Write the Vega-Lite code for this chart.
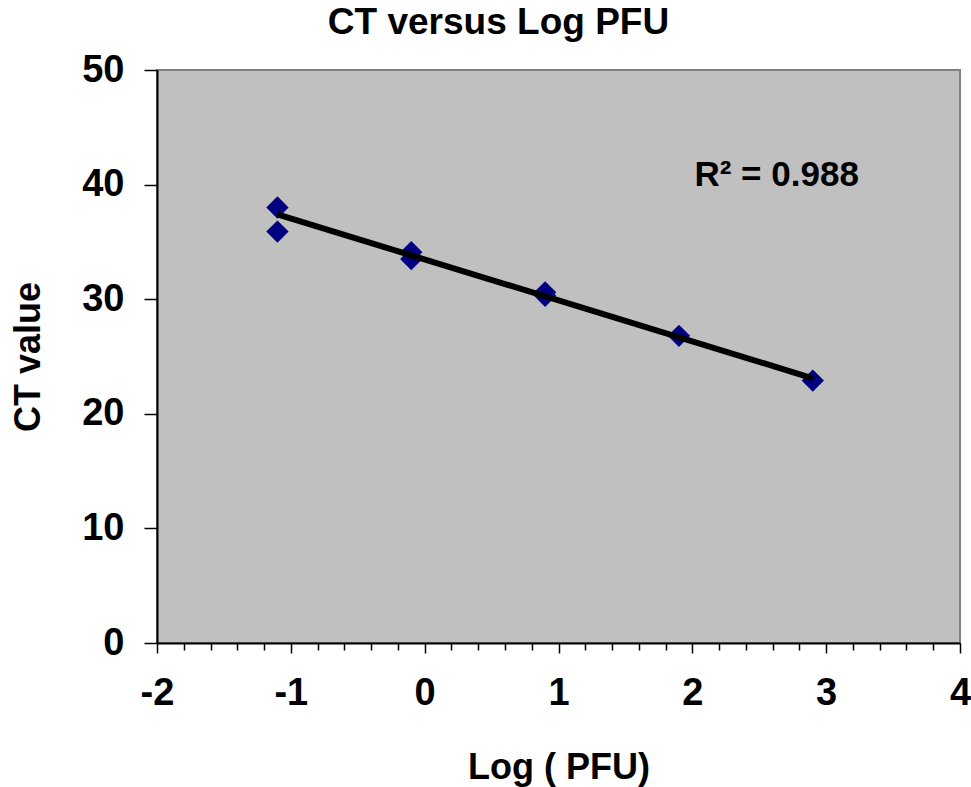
{
  "$schema": "https://vega.github.io/schema/vega-lite/v6.json",
  "width": 803,
  "height": 573,
  "autosize": "none",
  "padding": {"left": 157, "top": 70, "right": 11, "bottom": 144},
  "background": "white",
  "config": {
    "font": "Liberation Sans",
    "view": {"fill": "#C0C0C0", "stroke": "#808080", "strokeWidth": 2},
    "axis": {"grid": false, "domainColor": "black", "domainWidth": 2, "tickColor": "black", "tickWidth": 1.5,
      "labelFont": "Liberation Sans", "labelFontWeight": "bold", "labelColor": "black",
      "titleFont": "Liberation Sans", "titleFontWeight": "bold", "titleColor": "black"}
  },
  "title": {"text": "CT versus Log PFU", "font": "Liberation Sans", "fontSize": 37, "fontWeight": "bold", "color": "black", "dx": -60, "offset": 9},
  "datasets": {
    "pts": [
      {"logpfu": -1.1, "ct": 38.0},
      {"logpfu": -1.1, "ct": 35.9},
      {"logpfu": -0.1, "ct": 34.1},
      {"logpfu": -0.1, "ct": 33.5},
      {"logpfu": 0.9, "ct": 30.6},
      {"logpfu": 0.9, "ct": 30.3},
      {"logpfu": 1.9, "ct": 26.8},
      {"logpfu": 2.9, "ct": 22.9}
    ],
    "trend": [
      {"logpfu": -1.1, "ct": 37.4},
      {"logpfu": 2.9, "ct": 23.1}
    ],
    "label": [
      {"logpfu": 2.63, "ct": 40.8, "text": "R² = 0.988"}
    ]
  },
  "layer": [
    {
      "data": {"name": "pts"},
      "mark": {"type": "point", "shape": "diamond", "filled": true, "color": "#000080", "opacity": 1, "size": 500},
      "encoding": {
        "x": {"field": "logpfu", "type": "quantitative", "scale": {"domain": [-2, 4], "nice": false, "zero": false},
          "axis": {"title": "Log ( PFU)", "titleFontSize": 36, "titlePadding": 38, "tickCount": 60,
            "values": [-2,-1.8,-1.6,-1.4,-1.2,-1,-0.8,-0.6,-0.4,-0.2,0,0.2,0.4,0.6,0.8,1,1.2,1.4,1.6,1.8,2,2.2,2.4,2.6,2.8,3,3.2,3.4,3.6,3.8,4],
            "labelExpr": "abs(datum.value - round(datum.value)) < 0.001 ? '' + round(datum.value) : ''",
            "labelOverlap": false, "labelFontSize": 38, "labelPadding": 21, "labelFlush": false,
            "tickSize": {"condition": {"test": "abs(datum.value - round(datum.value)) < 0.001", "value": 10}, "value": 7}}},
        "y": {"field": "ct", "type": "quantitative", "scale": {"domain": [0, 50], "nice": false, "zero": true},
          "axis": {"title": "CT value", "titleFontSize": 36, "titlePadding": 34, "values": [0,10,20,30,40,50],
            "labelFontSize": 38, "labelPadding": 20, "tickSize": 13, "labelFlush": false}}
      }
    },
    {
      "data": {"name": "trend"},
      "mark": {"type": "line", "color": "black", "strokeWidth": 6},
      "encoding": {
        "x": {"field": "logpfu", "type": "quantitative"},
        "y": {"field": "ct", "type": "quantitative"}
      }
    },
    {
      "data": {"name": "label"},
      "mark": {"type": "text", "font": "Liberation Sans", "fontWeight": "bold", "fontSize": 35, "color": "black"},
      "encoding": {
        "x": {"field": "logpfu", "type": "quantitative"},
        "y": {"field": "ct", "type": "quantitative"},
        "text": {"field": "text"}
      }
    }
  ]
}
